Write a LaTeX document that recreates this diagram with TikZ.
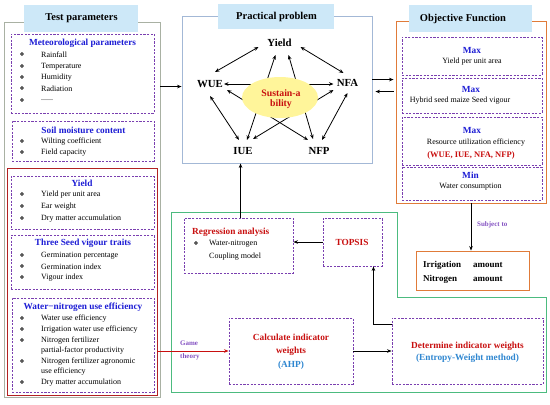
\documentclass[tikz,border=0pt]{standalone}
\usepackage{fontspec}
\setmainfont{Liberation Serif}
\newfontfamily\dejavu{DejaVu Sans}
\usetikzlibrary{arrows.meta,shapes.geometric}
\definecolor{grayfr}{HTML}{A9B1A3}
\definecolor{redfr}{HTML}{B22222}
\definecolor{ppfr}{HTML}{A3B8D6}
\definecolor{tbfill}{HTML}{CDE8F8}
\definecolor{orfr}{HTML}{E07B39}
\definecolor{grfr}{HTML}{4CBB7F}
\definecolor{purp}{HTML}{7A3FB0}
\definecolor{tblue}{HTML}{1C1CD4}
\definecolor{tred}{HTML}{C80F0F}
\definecolor{lblue}{HTML}{2E86D0}
\definecolor{lpurp}{HTML}{8452C2}
\definecolor{yel}{HTML}{FFF59A}
\newcommand\litem[3]{\node[bul] (#1b) at (22,#2) {❖}; \node[itm] (#1) at (41,#2) {#3};}
\newcommand\lcont[3]{\node[itm] (#1) at (41,#2) {#3};}
\begin{document}
\begin{tikzpicture}[x=1pt,y=-1pt,
  dbox/.style={draw=purp, line width=0.9pt, dash pattern=on 2.2pt off 1.4pt, inner sep=0pt},
  fr/.style={draw=#1, line width=0.9pt, inner sep=0pt},
  tbox/.style={fill=tbfill, inner sep=0pt},
  ttl/.style={font=\bfseries\fontsize{9.3}{10}\selectfont, text=tblue, inner sep=0pt},
  rttl/.style={font=\bfseries\fontsize{9.3}{10}\selectfont, text=tred, inner sep=0pt},
  bttl/.style={font=\bfseries\fontsize{9.3}{10}\selectfont, text=lblue, inner sep=0pt},
  itm/.style={font=\fontsize{8}{9}\selectfont, anchor=west, inner sep=0pt},
  ctr/.style={font=\fontsize{8}{9}\selectfont, inner sep=0pt},
  bul/.style={font=\dejavu\fontsize{5.5}{6}\selectfont, inner sep=0pt},
  arr/.style={-{Stealth[length=4.5pt,width=3.6pt]}, line width=0.8pt},
  darr/.style={{Stealth[length=4.5pt,width=3.6pt]}-{Stealth[length=4.5pt,width=3.6pt]}, line width=0.8pt},
  pn/.style={font=\bfseries\fontsize{10.8}{12}\selectfont, inner sep=1pt},
  hd/.style={font=\bfseries\fontsize{10.5}{12}\selectfont, inner sep=0pt},
  sus/.style={font=\bfseries\fontsize{9.8}{11}\selectfont, text=tred, inner sep=0pt},
  lab/.style={font=\bfseries\fontsize{7}{8}\selectfont, text=lpurp, anchor=west, inner sep=0pt}
]
\useasboundingbox (0,0) rectangle (550,405);
% ---------------- left panel
\node[fr=grayfr, minimum width=156pt, minimum height=375pt] (tp) at (82,209.5) {};
\node[tbox, minimum width=114pt, minimum height=27pt] (tpt) at (81,18.5) {};
\node[hd] (tptx) at (81.5,18.5) {Test parameters};
\node[dbox, minimum width=143pt, minimum height=79pt] (met) at (82.5,73.5) {};
\node[ttl] (mett) at (82.5,43) {Meteorological parameters};
\litem{m1}{55}{Rainfall}
\litem{m2}{66.5}{Temperature}
\litem{m3}{78}{Humidity}
\litem{m4}{89}{Radiation}
\litem{m5}{100.5}{......}
\node[dbox, minimum width=142pt, minimum height=40pt] (soil) at (83,141) {};
\node[ttl] (soilt) at (83.5,130) {Soil moisture content};
\litem{s1}{142}{Wilting coefficient}
\litem{s2}{153}{Field capacity}
\node[fr=redfr, minimum width=150pt, minimum height=227pt] (rb) at (82,281.5) {};
\node[dbox, minimum width=143pt, minimum height=53pt] (yld) at (82.5,202.5) {};
\node[ttl] (yldt) at (82,183.5) {Yield};
\litem{y1}{195}{Yield per unit area}
\litem{y2}{207}{Ear weight}
\litem{y3}{219}{Dry matter accumulation}
\node[dbox, minimum width=143pt, minimum height=54pt] (seed) at (82.5,262) {};
\node[ttl] (seedt) at (83,243.5) {Three Seed vigour traits};
\litem{v1}{256}{Germination percentage}
\litem{v2}{267}{Germination index}
\litem{v3}{278}{Vigour index}
\node[dbox, minimum width=142pt, minimum height=94pt] (wn) at (83,345) {};
\node[ttl] (wnt) at (83,307) {Water−nitrogen use efficiency};
\litem{w1}{318.5}{Water use efficiency}
\litem{w2}{330}{Irrigation water use efficiency}
\litem{w3}{341}{Nitrogen fertilizer}
\lcont{w3c}{351}{partial-factor productivity}
\litem{w4}{361.5}{Nitrogen fertilizer agronomic}
\lcont{w4c}{372}{use efficiency}
\litem{w5}{382.5}{Dry matter accumulation}
% ---------------- practical problem
\node[fr=ppfr, minimum width=190pt, minimum height=147pt] (pp) at (277,89.5) {};
\node[tbox, minimum width=116pt, minimum height=25pt] (ppt) at (276,16.5) {};
\node[hd] (pptx) at (276.5,17) {Practical problem};
\node[pn] (Y) at (279.5,43) {Yield};
\node[pn] (W) at (210,84) {WUE};
\node[pn] (N) at (347.5,83) {NFA};
\node[pn] (I) at (243,151) {IUE};
\node[pn] (P) at (319,151) {NFP};
% star lines (behind ellipse)
\draw[darr] ([shift={(14,0)}]W.center) -- ([shift={(-14,1)}]N.center);
\draw[darr] ([shift={(-4,12)}]Y.center) -- ([shift={(4,-11)}]I.center);
\draw[darr] ([shift={(9,12)}]Y.center) -- ([shift={(-6,-12)}]P.center);
\draw[darr] ([shift={(17,6)}]W.center) -- ([shift={(-11,-11)}]P.center);
\draw[darr] ([shift={(-14,7)}]N.center) -- ([shift={(10,-12)}]I.center);
\node[ellipse, fill=yel, minimum width=76pt, minimum height=41pt, inner sep=0pt] (sus) at (280,97.5) {};
\node[sus, anchor=base] (sus1) at (281,96) {Sustain-a};
\node[sus, anchor=base] (sus2) at (281,106) {bility};
% outer pentagon arrows
\draw[darr] ([shift={(-21,4)}]Y.center) -- ([shift={(5,-12)}]W.center);
\draw[darr] ([shift={(21,4)}]Y.center) -- ([shift={(-4,-10)}]N.center);
\draw[darr] ([shift={(0,12)}]W.center) -- ([shift={(-4,-11)}]I.center);
\draw[darr] ([shift={(0,10)}]N.center) -- ([shift={(3,-11)}]P.center);
% ---------------- objective function
\node[fr=orfr, minimum width=150pt, minimum height=182pt] (ob) at (471,112) {};
\node[tbox, minimum width=123pt, minimum height=27pt] (obt) at (470.5,18.5) {};
\node[hd] (obtx) at (463,18.5) {Objective Function};
\node[dbox, minimum width=140pt, minimum height=38pt] (mx1) at (472,56) {};
\node[ttl] (mx1t) at (472,50) {Max};
\node[ctr] (mx1a) at (472,62) {Yield per unit area};
\node[dbox, minimum width=140pt, minimum height=35pt] (mx2) at (472,95.5) {};
\node[ttl] (mx2t) at (471,89) {Max};
\node[ctr] (mx2a) at (460,100.5) {Hybrid seed maize Seed vigour};
\node[dbox, minimum width=140pt, minimum height=48pt] (mx3) at (472,141) {};
\node[ttl] (mx3t) at (472,130) {Max};
\node[ctr] (mx3a) at (476,143) {Resource utilization efficiency};
\node[font=\bfseries\fontsize{8.5}{9}\selectfont, text=tred, inner sep=0pt] (mx3b) at (471,155) {(WUE, IUE, NFA, NFP)};
\node[dbox, minimum width=140pt, minimum height=33pt] (mn) at (472,183.5) {};
\node[ttl] (mnt) at (470.5,175.5) {Min};
\node[ctr] (mna) at (470.5,186.5) {Water consumption};
\node[fr=orfr, minimum width=113pt, minimum height=39pt] (irr) at (472.5,270.5) {};
\node[font=\bfseries\fontsize{9}{10}\selectfont, anchor=west, inner sep=0pt] (irr1) at (423,265) {Irrigation};
\node[font=\bfseries\fontsize{9}{10}\selectfont, anchor=west, inner sep=0pt] (irr2) at (473,265) {amount};
\node[font=\bfseries\fontsize{9}{10}\selectfont, anchor=west, inner sep=0pt] (irr3) at (423,279) {Nitrogen};
\node[font=\bfseries\fontsize{9}{10}\selectfont, anchor=west, inner sep=0pt] (irr4) at (473,279) {amount};
\node[lab] (subj) at (477,225) {Subject to};
% ---------------- green method frame
\draw[grfr, line width=0.9pt] (171,212) -- (397,212) -- (397,297) -- (546,297) -- (546,392) -- (171,392) -- cycle;
\node[dbox, minimum width=109pt, minimum height=55pt] (reg) at (238.5,245.5) {};
\node[rttl, anchor=west] (regt) at (192,232) {Regression analysis};
\node[bul] (rgb) at (196,244) {❖};
\node[itm] (rg1) at (209,244) {Water-nitrogen};
\node[itm] (rg2) at (209,257) {Coupling model};
\node[dbox, minimum width=59pt, minimum height=48pt] (top) at (352.5,242) {};
\node[rttl] (topt) at (352,242) {TOPSIS};
\node[dbox, minimum width=124pt, minimum height=66pt] (calc) at (291,351) {};
\node[rttl] (calc1) at (291,337.5) {Calculate indicator};
\node[rttl] (calc2) at (291,351.5) {weights};
\node[bttl] (calc3) at (291,365) {(AHP)};
\node[dbox, minimum width=151pt, minimum height=66pt] (det) at (467.5,351) {};
\node[rttl] (det1) at (467.5,346) {Determine indicator weights};
\node[bttl] (det2) at (467.5,358.5) {(Entropy-Weight method)};
\node[lab] (gm1) at (180,343) {Game};
\node[lab] (gm2) at (180,357) {theory};
% ---------------- connectors
\draw[arr] ([shift={(0,65)}]tp.north east) -- ([shift={(0,71)}]pp.north west);
\draw[arr] ([shift={(0,64)}]pp.north east) -- ([shift={(-2,59)}]ob.north west);
\draw[arr] ([shift={(-2,71)}]ob.north west) -- ([shift={(3,76)}]pp.north east);
\draw[arr] (ob.south) -- (ob.south |- irr.north);
\draw[arr] ([shift={(57,0)}]reg.north west) -- ([shift={(59,0)}]pp.south west);
\draw[arr] (top.west) -- (top.west -| reg.east);
\draw[arr] (calc.east) -- (calc.east -| det.west);
\draw[arr] ([shift={(0,7)}]det.north west) -| ([shift={(-9,0)}]top.south east);
\draw[arr, draw=tred, -{Stealth[length=4.5pt,width=3.6pt]}] (rb.east |- calc.west) -- (calc.west);
\end{tikzpicture}
\end{document}
